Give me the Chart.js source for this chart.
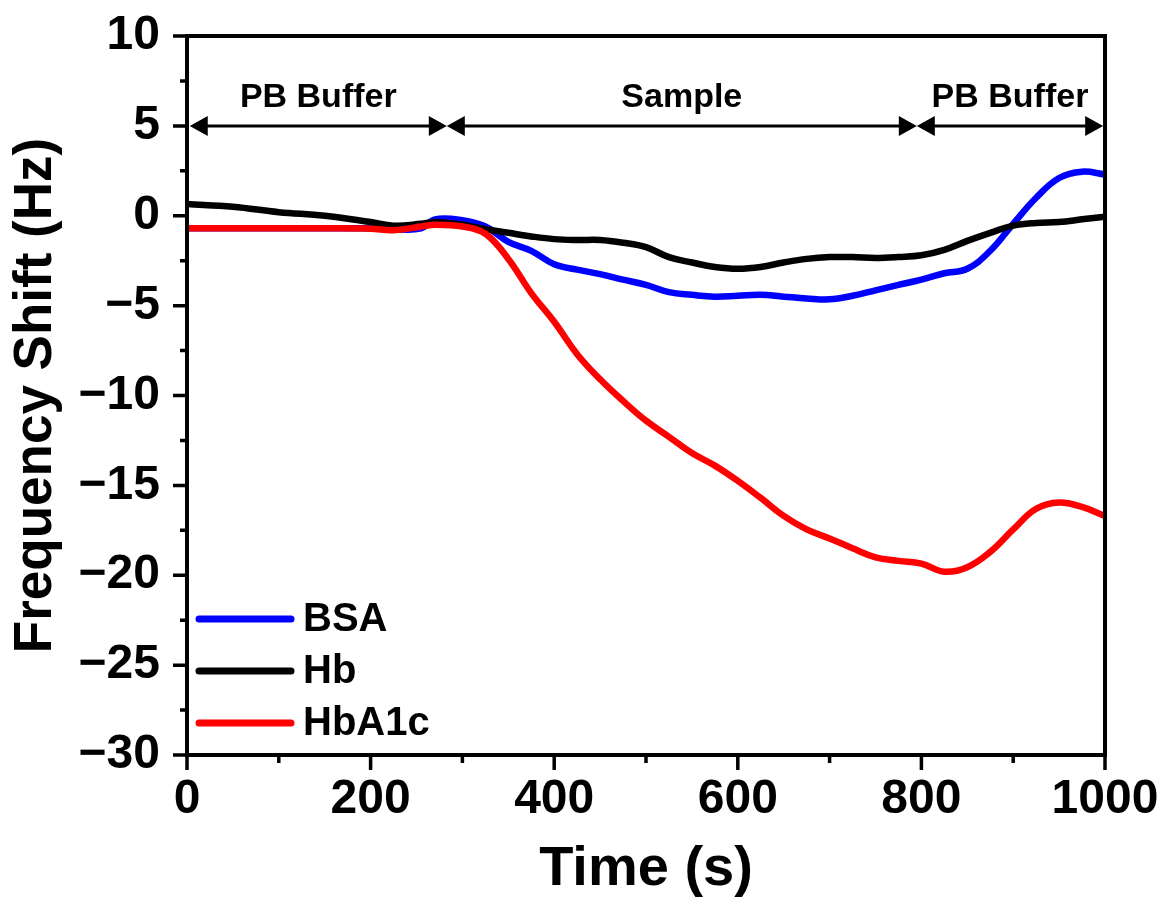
<!DOCTYPE html>
<html>
<head>
<meta charset="utf-8">
<script src="https://cdn.jsdelivr.net/npm/chart.js@4.4.1/dist/chart.umd.min.js"></script>
<style>
  html, body { margin: 0; padding: 0; background: #fff; }
  #wrap { width: 1170px; height: 920px; }
</style>
</head>
<body>
<div id="wrap"><canvas id="qcm" width="1170" height="920"></canvas></div>
<script>
// time axis (s)
const timeS = [0, 50, 100, 150, 200, 225, 255, 270, 300, 325, 350, 375, 400, 425, 450, 475, 500,
  525, 550, 575, 600, 625, 650, 675, 700, 725, 750, 775, 800, 825, 850, 875, 900, 925, 950, 975, 1000];

// frequency shift (Hz) per sample
const bsa = [-0.7, -0.7, -0.7, -0.7, -0.7, -0.75, -0.7, -0.2, -0.25, -0.6, -1.45, -1.95, -2.7, -3.0, -3.25, -3.55, -3.85,
  -4.25, -4.4, -4.5, -4.45, -4.4, -4.5, -4.6, -4.65, -4.45, -4.15, -3.85, -3.55, -3.2, -2.95, -1.95, -0.45, 1.0, 2.1, 2.45, 2.3];
const hb = [0.65, 0.5, 0.2, 0.0, -0.35, -0.55, -0.45, -0.35, -0.5, -0.75, -0.95, -1.15, -1.3, -1.35, -1.35, -1.5, -1.75,
  -2.3, -2.6, -2.85, -2.95, -2.85, -2.6, -2.4, -2.3, -2.3, -2.35, -2.3, -2.2, -1.9, -1.4, -0.95, -0.55, -0.4, -0.35, -0.2, -0.05];
const hba1c = [-0.7, -0.7, -0.7, -0.7, -0.72, -0.8, -0.6, -0.5, -0.6, -1.0, -2.4, -4.3, -5.9, -7.7, -9.1, -10.3, -11.4,
  -12.3, -13.2, -13.9, -14.75, -15.7, -16.7, -17.45, -17.95, -18.5, -19.0, -19.2, -19.35, -19.8, -19.55, -18.7, -17.45, -16.3, -15.95, -16.2, -16.7];

const seriesNames = ['BSA', 'Hb', 'HbA1c'];
const seriesColors = ['#0000ff', '#000000', '#ff0000'];

// stage annotations: [start, end] in seconds
const stageLabels = ['PB Buffer', 'Sample', 'PB Buffer'];
const stageBounds = [[3, 283], [283, 795], [795, 998]];
const stageLevel = 5;

const FONT = '"Liberation Sans", Arial, Helvetica, sans-serif';

function toPoints(vals) {
  return vals.map((v, i) => ({ x: timeS[i], y: v }));
}

function arrowHead(ctx, tipX, y, dir) {
  ctx.beginPath();
  ctx.moveTo(tipX, y);
  ctx.lineTo(tipX - dir * 18, y - 10);
  ctx.lineTo(tipX - dir * 18, y + 10);
  ctx.closePath();
  ctx.fill();
}

const overlay = {
  id: 'overlay',
  afterDatasetsDraw(chart) {
    const { ctx, chartArea: a, scales: { x, y } } = chart;
    ctx.save();
    ctx.strokeStyle = '#000';
    ctx.fillStyle = '#000';

    // frame
    ctx.lineWidth = 4;
    ctx.strokeRect(a.left, a.top, a.right - a.left, a.bottom - a.top);

    // ticks, major + minor, pointing outward
    ctx.lineWidth = 3.5;
    ctx.beginPath();
    x.ticks.forEach((t, i) => {
      const px = x.getPixelForValue(t.value);
      ctx.moveTo(px, a.bottom); ctx.lineTo(px, a.bottom + 15);
      if (i < x.ticks.length - 1) {
        const mx = x.getPixelForValue((t.value + x.ticks[i + 1].value) / 2);
        ctx.moveTo(mx, a.bottom); ctx.lineTo(mx, a.bottom + 8);
      }
    });
    y.ticks.forEach((t, i) => {
      const py = y.getPixelForValue(t.value);
      ctx.moveTo(a.left, py); ctx.lineTo(a.left - 14, py);
      if (i < y.ticks.length - 1) {
        const my = y.getPixelForValue((t.value + y.ticks[i + 1].value) / 2);
        ctx.moveTo(a.left, my); ctx.lineTo(a.left - 7, my);
      }
    });
    ctx.stroke();

    // stage arrows + labels
    const ay = y.getPixelForValue(stageLevel);
    ctx.font = 'bold 34px ' + FONT;
    ctx.textAlign = 'center';
    ctx.textBaseline = 'middle';
    stageBounds.forEach((b, i) => {
      const x0 = x.getPixelForValue(b[0]);
      const x1 = x.getPixelForValue(b[1]);
      ctx.lineWidth = 3;
      ctx.beginPath();
      ctx.moveTo(x0 + 10, ay); ctx.lineTo(x1 - 10, ay);
      ctx.stroke();
      arrowHead(ctx, x0, ay, -1);
      arrowHead(ctx, x1, ay, 1);
      ctx.fillText(stageLabels[i], (x0 + x1) / 2, ay - 28);
    });

    // legend, lower left inside the plot
    ctx.font = 'bold 40px ' + FONT;
    ctx.textAlign = 'left';
    ctx.lineCap = 'round';
    chart.data.datasets.forEach((ds, i) => {
      const ly = a.bottom - 136 + i * 52;
      ctx.strokeStyle = ds.borderColor;
      ctx.lineWidth = 7;
      ctx.beginPath();
      ctx.moveTo(a.left + 12, ly); ctx.lineTo(a.left + 104, ly);
      ctx.stroke();
      ctx.fillStyle = '#000';
      ctx.fillText(ds.label, a.left + 116, ly + 1);
    });
    ctx.restore();
  }
};

new Chart(document.getElementById('qcm'), {
  type: 'line',
  data: {
    datasets: [bsa, hb, hba1c].map((vals, i) => ({
      label: seriesNames[i],
      data: toPoints(vals),
      borderColor: seriesColors[i],
      backgroundColor: seriesColors[i],
      borderWidth: 6.5,
      pointRadius: 0,
      tension: 0.4,
      fill: false,
      order: 3 - i   // HbA1c drawn on top, as in the source plot
    }))
  },
  options: {
    responsive: false,
    animation: false,
    layout: { padding: { top: 36, right: 65, left: 0, bottom: 0 } },
    plugins: { legend: { display: false }, tooltip: { enabled: false } },
    scales: {
      x: {
        type: 'linear',
        min: 0, max: 1000,
        grid: { display: false, drawTicks: false },
        border: { display: false },
        ticks: {
          stepSize: 200,
          padding: 16,
          color: '#000',
          maxRotation: 0,
          font: { family: FONT, size: 48, weight: 'bold' },
          callback: v => String(v)
        },
        title: {
          display: true,
          text: 'Time (s)',
          color: '#000',
          padding: { top: 0, bottom: 17 },
          font: { family: FONT, size: 56, weight: 'bold' }
        },
        afterFit(s) { s.height = 165; s.paddingLeft = 0; s.paddingRight = 0; }
      },
      y: {
        min: -30, max: 10,
        grid: { display: false, drawTicks: false },
        border: { display: false },
        ticks: {
          stepSize: 5,
          padding: 27,
          color: '#000',
          font: { family: FONT, size: 48, weight: 'bold' },
          callback: v => (v < 0 ? '\u2212' + Math.abs(v) : String(v))
        },
        title: {
          display: true,
          text: 'Frequency Shift (Hz)',
          color: '#000',
          padding: { top: 5, bottom: 0 },
          font: { family: FONT, size: 53, weight: 'bold' }
        },
        afterFit(s) { s.width = 187; s.paddingTop = 0; s.paddingBottom = 0; }
      }
    }
  },
  plugins: [overlay]
});
</script>
</body>
</html>
